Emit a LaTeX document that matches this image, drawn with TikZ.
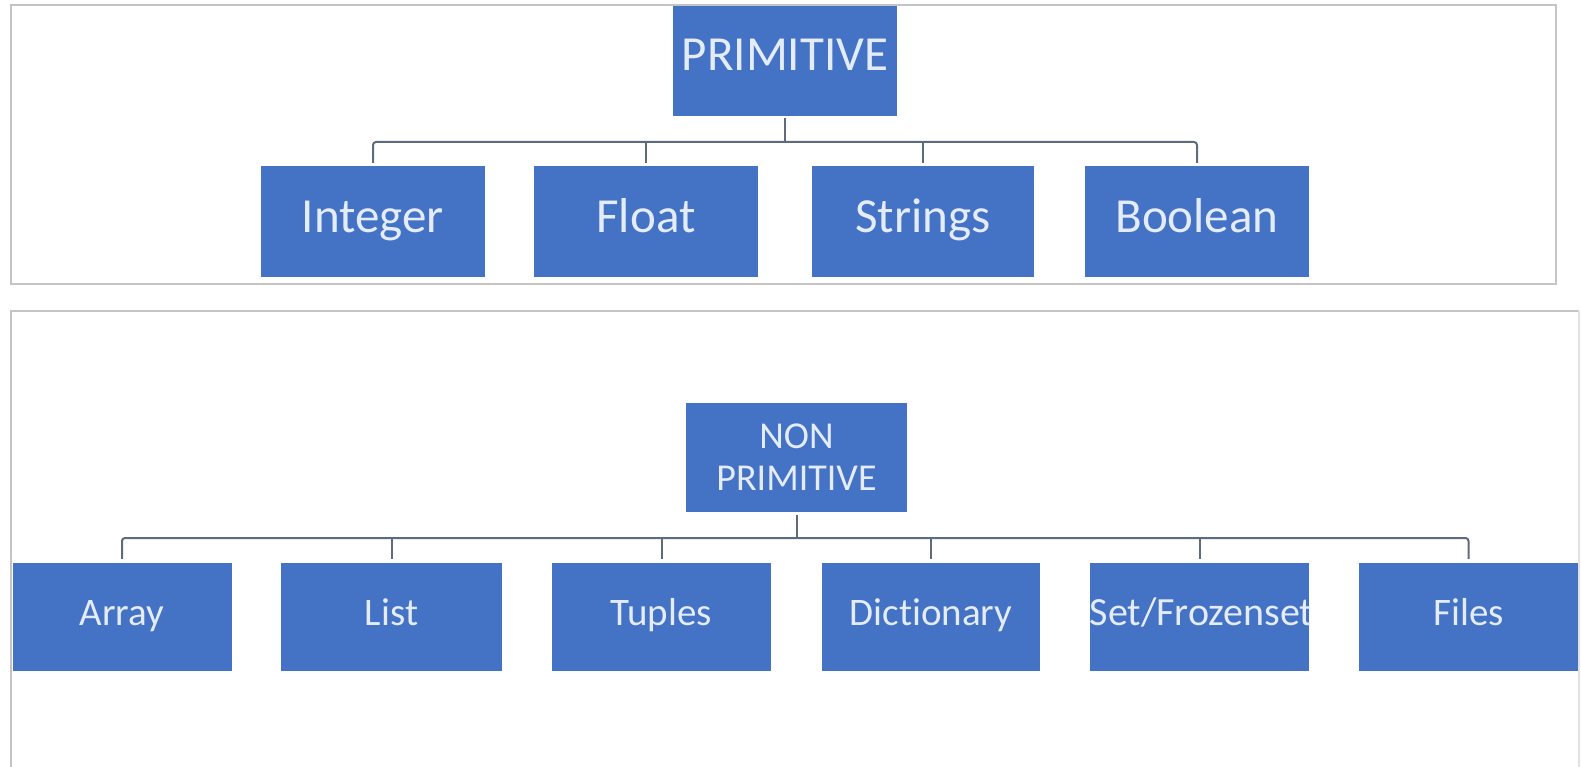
\documentclass[tikz,border=0pt]{standalone}
\usepackage{fontspec}
\setmainfont{Carlito}[Ligatures={NoCommon}]
\definecolor{boxblue}{HTML}{4472C4}
\definecolor{txtc}{HTML}{E4ECFA}
\definecolor{connc}{HTML}{5E6A7E}
\definecolor{framec}{HTML}{C4C4C4}
\tikzset{
  bx/.style={rectangle, fill=boxblue, text=txtc, inner sep=0pt, align=center},
  topbx/.style={bx, minimum width=222pt, minimum height=111pt, font=\fontsize{49}{54}\selectfont, text height=34pt, text depth=11pt},
  botbx/.style={bx, minimum height=108pt, font=\fontsize{39}{42}\selectfont},
  botchild/.style={botbx, minimum width=219pt, text height=25pt, text depth=9pt},
  conn/.style={draw=connc, line width=2pt},
  frm/.style={draw=framec, line width=2pt}
}
\begin{document}
\begin{tikzpicture}[x=1pt,y=-1pt]
\useasboundingbox (0,0) rectangle (1581,767);
\fill[white] (0,0) rectangle (1581,767);
% frames
\draw[frm] (11,5) rectangle (1556,284);
\draw[frm] (11,772) -- (11,311) -- (1579,311);
\draw[draw=framec!50, line width=1.5pt] (1579,311) -- (1579,772);
% top tree
\node[topbx, minimum width=224pt, minimum height=110pt, text height=32pt, text depth=12pt] (prim) at (785,61) {PRIMITIVE};
\node[topbx, minimum width=224pt] (int) at (373,221.5) {Integer};
\node[topbx, minimum width=224pt] (flt) at (646,221.5) {Float};
\node[topbx] (str) at (923,221.5) {Strings};
\node[topbx, minimum width=224pt] (bool) at (1197,221.5) {Boolean};
\coordinate (b1) at (0,142);
\draw[conn] ([yshift=-2pt]prim.south) -- (prim.south |- b1);
\draw[conn, rounded corners=3pt] ([yshift=3pt]int.north) -- (int.north |- b1) -- (bool.north |- b1) -- ([yshift=3pt]bool.north);
\draw[conn] (flt.north |- b1) -- ([yshift=3pt]flt.north);
\draw[conn] (str.north |- b1) -- ([yshift=3pt]str.north);
% bottom tree
\node[botbx, minimum width=221pt, minimum height=109pt, font=\fontsize{38}{42}\selectfont] (nonp) at (796.5,457.5) {NON\\PRIMITIVE};
\node[botchild] (arr) at (122,617) {Array};
\node[botchild, minimum width=221pt] (lst) at (391.5,617) {List};
\node[botchild] (tup) at (661.5,617) {Tuples};
\node[botchild, minimum width=218pt] (dict) at (931,617) {Dictionary};
\node[botchild] (setf) at (1199.5,617) {};
\begin{scope}
  \clip (setf.south west) rectangle (setf.north east);
  \node[font=\fontsize{40}{42}\selectfont, text=txtc, inner sep=0pt, text height=25pt, text depth=9pt] (setft) at ([xshift=2pt]setf.center) {Set/Frozenset};
\end{scope}
\node[botchild] (fil) at (1468.5,617) {Files};
\coordinate (b2) at (0,538);
\draw[conn] ([yshift=-3pt]nonp.south) -- (nonp.south |- b2);
\draw[conn, rounded corners=3pt] ([yshift=4pt]arr.north) -- (arr.north |- b2) -- (fil.north |- b2) -- ([yshift=4pt]fil.north);
\draw[conn] (lst.north |- b2) -- ([yshift=4pt]lst.north);
\draw[conn] (tup.north |- b2) -- ([yshift=4pt]tup.north);
\draw[conn] (dict.north |- b2) -- ([yshift=4pt]dict.north);
\draw[conn] (setf.north |- b2) -- ([yshift=4pt]setf.north);
\end{tikzpicture}
\end{document}
